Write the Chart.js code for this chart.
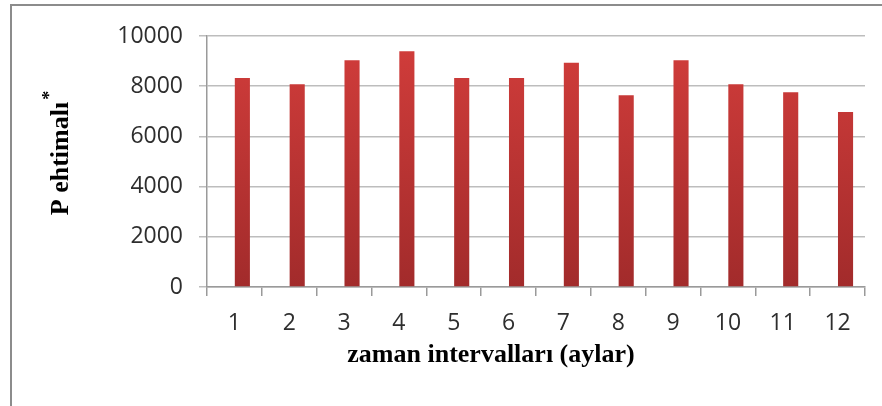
<!DOCTYPE html>
<html>
<head>
<meta charset="utf-8">
<title>P ehtimalı</title>
<script src="https://cdn.jsdelivr.net/npm/chart.js@4"></script>
<style>
  html, body { margin: 0; padding: 0; background: #fff; }
  #wrap { position: relative; width: 882px; height: 406px; overflow: hidden; }
  canvas { position: absolute; left: 0; top: 0; }
</style>
</head>
<body>
<div id="wrap">
  <canvas id="grafik" width="882" height="406"></canvas>
</div>
<script>
// Verilər
var aylar = ["1", "2", "3", "4", "5", "6", "7", "8", "9", "10", "11", "12"];
var ehtimal = [8330, 8080, 9030, 9390, 8330, 8330, 8930, 7640, 9030, 8080, 7760, 6970];
var bosSeriya = [null, null, null, null, null, null, null, null, null, null, null, null];
var yTicks = [0, 2000, 4000, 6000, 8000, 10000];

var yBaslik = "P ehtimalı";
var xBaslik = "zaman intervalları (aylar)";

// Çərçivə və ox başlıqları
var baslikPlugin = {
  id: "basliqlar",
  beforeDraw: function(chart) {
    var ctx = chart.ctx;
    ctx.save();
    ctx.fillStyle = "#ffffff";
    ctx.fillRect(0, 0, chart.width, chart.height);
    ctx.strokeStyle = "#8c8c8c";
    ctx.lineWidth = 2;
    ctx.beginPath();
    ctx.moveTo(11, chart.height + 5);
    ctx.lineTo(11, 5);
    ctx.lineTo(chart.width + 5, 5);
    ctx.stroke();
    ctx.restore();
  },
  afterDraw: function(chart) {
    var ctx = chart.ctx;
    var a = chart.chartArea;
    ctx.save();
    ctx.fillStyle = "#000000";
    ctx.textBaseline = "middle";
    ctx.textAlign = "center";
    ctx.font = "bold 26px 'Liberation Serif', 'DejaVu Serif', serif";
    ctx.fillText(xBaslik, a.left + (a.right - a.left) / 2 - 45, 355);

    // y başlığı (fırlanmış)
    ctx.translate(61, (a.top + a.bottom) / 2 - 9);
    ctx.rotate(-Math.PI / 2);
    var w = ctx.measureText(yBaslik).width;
    ctx.textAlign = "left";
    ctx.fillText(yBaslik, -w / 2 - 6, 0);
    ctx.font = "bold 18px 'Liberation Serif', serif";
    ctx.fillText("*", w / 2 - 4, -11);
    ctx.restore();
  }
};

function barRengi(context) {
  var chart = context.chart;
  var a = chart.chartArea;
  if (!a) {
    return "#c03434";
  }
  var g = chart.ctx.createLinearGradient(0, a.top, 0, a.bottom);
  g.addColorStop(0, "#d23d3b");
  g.addColorStop(1, "#a22b2b");
  return g;
}

var ctx = document.getElementById("grafik").getContext("2d");
var chart = new Chart(ctx, {
  type: "bar",
  data: {
    labels: aylar,
    datasets: [
      {
        label: "",
        data: bosSeriya,
        backgroundColor: "rgba(0,0,0,0)"
      },
      {
        label: "P ehtimalı",
        data: ehtimal,
        backgroundColor: barRengi
      }
    ]
  },
  options: {
    responsive: false,
    animation: false,
    events: [],
    datasets: {
      bar: { categoryPercentage: 0.58, barPercentage: 0.95 }
    },
    layout: {
      padding: { left: 0, top: 36, right: 17, bottom: 38 }
    },
    plugins: {
      legend: { display: false },
      tooltip: { enabled: false },
      title: { display: false }
    },
    scales: {
      x: {
        grid: {
          offset: true,
          drawOnChartArea: false,
          drawTicks: true,
          tickLength: 9,
          color: "#9a9a9a",
          lineWidth: 1.5
        },
        border: { display: true, color: "#9a9a9a", width: 1.5 },
        ticks: {
          padding: 14,
          color: "#2e2e2e",
          font: { family: "'Open Sans', 'Liberation Sans', sans-serif", size: 23 }
        },
        afterFit: function(scale) {
          scale.height = 81;
        }
      },
      y: {
        min: 0,
        max: 10000,
        afterBuildTicks: function(scale) {
          scale.ticks = yTicks.map(function(v) { return { value: v }; });
        },
        grid: {
          color: "#bdbdbd",
          lineWidth: 1.5,
          drawTicks: true,
          tickLength: 8
        },
        border: { display: true, color: "#9a9a9a", width: 1.5 },
        ticks: {
          padding: 16,
          color: "#2e2e2e",
          font: { family: "'Open Sans', 'Liberation Sans', sans-serif", size: 23 },
          callback: function(v) { return String(v); }
        },
        afterFit: function(scale) {
          scale.width = 207;
        }
      }
    }
  },
  plugins: [baslikPlugin]
});
</script>
</body>
</html>
